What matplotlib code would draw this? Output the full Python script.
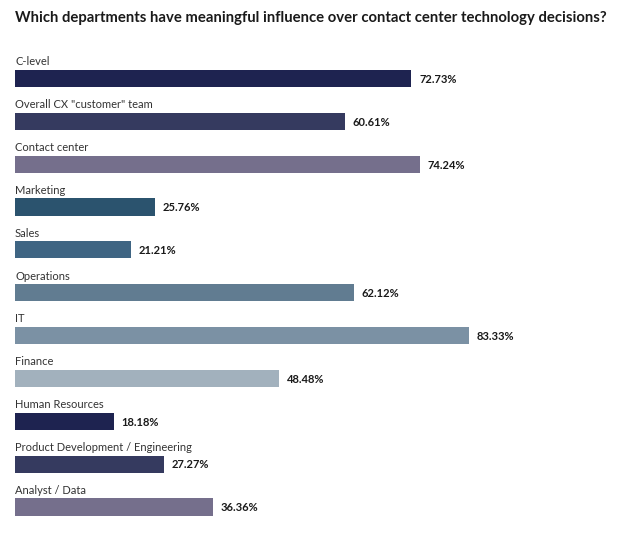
import matplotlib
matplotlib.use("Agg")
import matplotlib.pyplot as plt

departments = ["C-level", 'Overall CX "customer" team', "Contact center", "Marketing",
               "Sales", "Operations", "IT", "Finance", "Human Resources",
               "Product Development / Engineering", "Analyst / Data"]
shares = [72.73, 60.61, 74.24, 25.76, 21.21, 62.12, 83.33, 48.48, 18.18, 27.27, 36.36]
colors = ["#1e2350", "#353a5f", "#756f8c", "#2b536e", "#3f6583", "#617c91",
          "#7b91a4", "#a2b1bd", "#1e2350", "#353a5f", "#756f8c"]

plt.rcParams["font.family"] = ["Lato", "DejaVu Sans"]

fig = plt.figure(figsize=(6.24, 5.36), dpi=100)
fig.patch.set_facecolor("white")
ax = fig.add_axes([15 / 624, 0, 545 / 624, 1])
ax.set_xlim(0, 100)
ax.set_ylim(10.677, -1.832)
ax.axis("off")

ys = list(range(len(departments)))
ax.barh(ys, shares, height=0.4, color=colors)
for y, name, v in zip(ys, departments, shares):
    ax.text(0, y - 0.39, name, fontsize=8, color="#333333", va="center", ha="left")
    ax.text(v + 1.4, y + 0.02, f"{v:.2f}%", fontsize=8, fontweight="bold",
            color="#1a1a1a", va="center", ha="left")

fig.text(15 / 624, 1 - 18 / 536, "Which departments have meaningful influence over contact center technology decisions?",
         fontsize=10.75, fontweight="bold", color="#1a1a1a", va="center", ha="left")

fig.savefig("out.png", dpi=100)
